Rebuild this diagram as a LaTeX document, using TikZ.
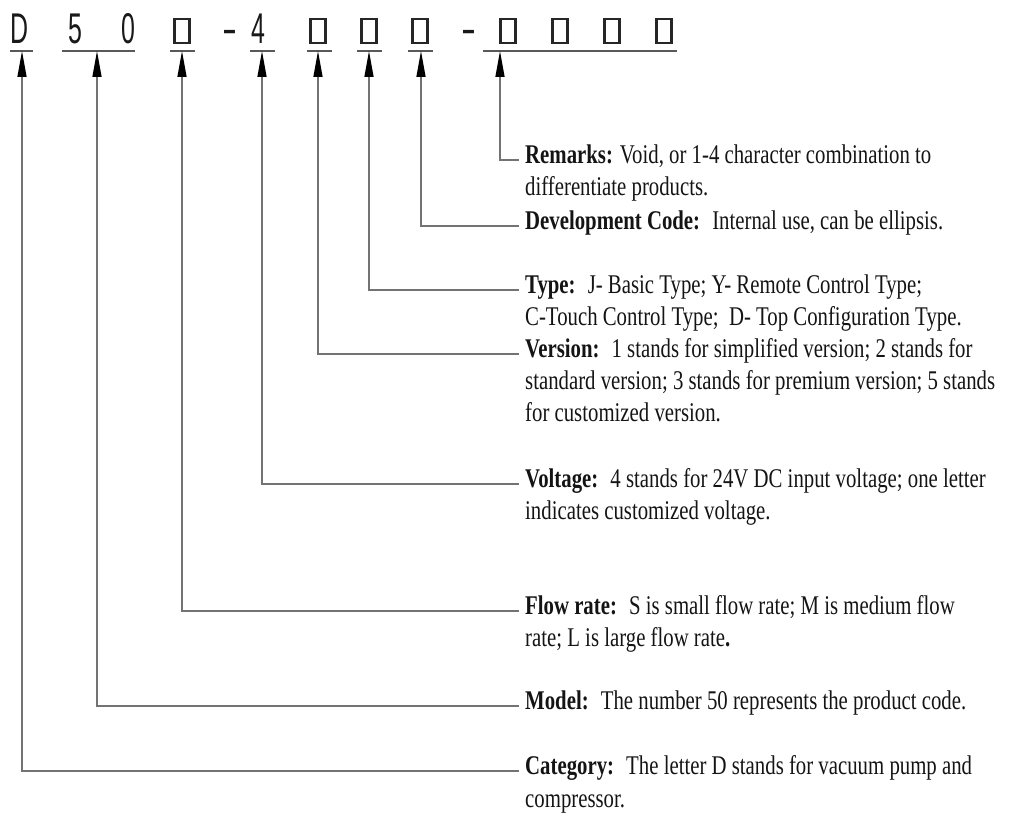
\documentclass[tikz,border=0pt]{standalone}
\usepackage{fontspec}
\setmainfont{Liberation Serif}[FakeStretch=0.77]
\newfontfamily\topfont{Liberation Sans}[FakeStretch=0.58]
\usetikzlibrary{arrows.meta}
\tikzset{
  ch/.style={font=\topfont\fontsize{43}{43}\selectfont, text=black!90, inner sep=0pt, anchor=base},
  slot/.style={draw=black!85, line width=2.2pt, minimum width=15pt, minimum height=24pt, inner sep=0pt},
  uline/.style={draw=black!65, line width=1.5pt},
  conn/.style={draw=black!55, line width=1.3pt},
  arr/.style={-{Triangle[length=26pt,width=9pt,color=black]}},
  lab/.style={font=\fontsize{27}{27}\selectfont, text=black!92, anchor=west, inner xsep=6pt, inner ysep=0pt, text height=0.66em, text depth=0pt}
}
\begin{document}
\begin{tikzpicture}[x=1pt,y=-1pt]
\useasboundingbox (0,0) rectangle (1021,834);
% top code characters
\node[ch] (cD) at (20,44) {D};
\node[ch] (c5) at (75,44) {5};
\node[ch] (c0) at (128,44) {0};
\node[slot] (b1) at (182,31) {};
\node[ch] (d1) at (230,44) {\scalebox{1.8}[1]{-}};
\node[ch] (c4) at (258,44) {4};
\node[slot] (b2) at (318,31) {};
\node[slot] (b3) at (369,31) {};
\node[slot] (b4) at (420,31) {};
\node[ch] (d2) at (469,44) {\scalebox{1.8}[1]{-}};
\node[slot] (b5) at (508,31) {};
\node[slot] (b6) at (560,31) {};
\node[slot] (b7) at (612,31) {};
\node[slot] (b8) at (664,31) {};
% underlines
\draw[uline] (10,51) -- (33,51);
\draw[uline] (62,51) -- (135,51);
\draw[uline] (170,51) -- (195,51);
\draw[uline] (250,51) -- (275,51);
\draw[uline] (307,51) -- (332,51);
\draw[uline] (357,51) -- (382,51);
\draw[uline] (408,51) -- (433,51);
\draw[uline] (483,51) -- (677,51);
% arrow targets
\coordinate (tD) at (22,51);
\coordinate (t50) at (97,51);
\coordinate (tb1) at (182,51);
\coordinate (t4) at (262,51);
\coordinate (tb2) at (318,51);
\coordinate (tb3) at (369,51);
\coordinate (tb4) at (421,51);
\coordinate (tb5) at (500,51);
% labels
\node[lab] (rem) at (519,160) {\textbf{Remarks:} Void, or 1-4 character combination to};
\node[lab] (rem2) at (519,192) {differentiate products.};
\node[lab] (dev) at (519,226) {\textbf{Development Code:}\hspace{0.45em}Internal use, can be ellipsis.};
\node[lab] (typ) at (519,290) {\textbf{Type:}\hspace{0.45em}J- Basic Type; Y- Remote Control Type;};
\node[lab] (typ2) at (519,322) {C-Touch Control Type;\ \ D- Top Configuration Type.};
\node[lab] (ver) at (519,354) {\textbf{Version:}\hspace{0.45em}1 stands for simplified version; 2 stands for};
\node[lab] (ver2) at (519,386) {standard version; 3 stands for premium version; 5 stands};
\node[lab] (ver3) at (519,418) {for customized version.};
\node[lab] (vol) at (519,484) {\textbf{Voltage:}\hspace{0.45em}4 stands for 24V DC input voltage; one letter};
\node[lab] (vol2) at (519,516) {indicates customized voltage.};
\node[lab] (flo) at (519,611) {\textbf{Flow rate:}\hspace{0.45em}S is small flow rate; M is medium flow};
\node[lab] (flo2) at (519,643) {rate; L is large flow rate\textbf{.}};
\node[lab] (mod) at (519,706) {\textbf{Model:}\hspace{0.45em}The number 50 represents the product code.};
\node[lab] (cat) at (519,771) {\textbf{Category:}\hspace{0.45em}The letter D stands for vacuum pump and};
\node[lab] (cat2) at (519,804) {compressor.};
% connectors
\draw[conn,arr] (rem.west) -| (tb5);
\draw[conn,arr] (dev.west) -| (tb4);
\draw[conn,arr] (typ.west) -| (tb3);
\draw[conn,arr] (ver.west) -| (tb2);
\draw[conn,arr] (vol.west) -| (t4);
\draw[conn,arr] (flo.west) -| (tb1);
\draw[conn,arr] (mod.west) -| (t50);
\draw[conn,arr] (cat.west) -| (tD);
\end{tikzpicture}
\end{document}
